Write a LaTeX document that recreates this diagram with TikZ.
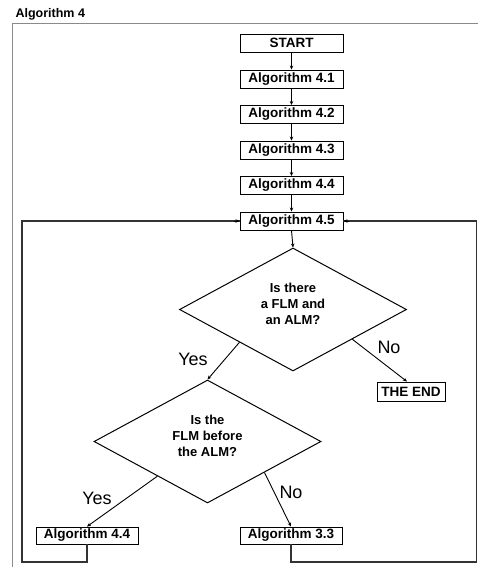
\documentclass[tikz,border=0pt]{standalone}
\usepackage{fontspec}
\setmainfont{Liberation Sans}
\usetikzlibrary{arrows.meta,shapes.geometric,calc}
\definecolor{FrameGray}{HTML}{8A8A8A}
\definecolor{LoopGray}{HTML}{333333}

\begin{document}
\begin{tikzpicture}[x=1pt,y=-1pt,
    box/.style={draw,line width=0.9pt,inner sep=0pt,minimum width=103,minimum height=18,
      font=\fontsize{13.5}{16}\selectfont\bfseries},
    decision/.style={draw,diamond,line width=1pt,inner sep=0pt,minimum width=227,minimum height=123,
      align=center,font=\fontsize{13}{16}\selectfont\bfseries},
    lbl/.style={font=\fontsize{18}{20}\selectfont},
    flow/.style={line width=0.9pt,-{Stealth[length=4pt,width=3.5pt]}},
    loop/.style={line width=1.5pt,LoopGray}]
    \useasboundingbox (0,0) rectangle (478,567);
    % Frame and title
    \node[anchor=west,font=\fontsize{12.5}{14}\selectfont\bfseries] (title) at (12,14) {Algorithm 4};
    \coordinate (frameTL) at (12,24);
    \coordinate (frameTR) at (478,24);
    \coordinate (frameBL) at (12,567);
    \draw[FrameGray,line width=1pt] (frameTR) -- (frameTL) -- (frameBL);
    % Main chain
    \node[box] (start) at (291.5,43) {START};
    \node[box] (alg41) at (291.5,79) {Algorithm 4.1};
    \node[box] (alg42) at (291.5,114.5) {Algorithm 4.2};
    \node[box] (alg43) at (291.5,150) {Algorithm 4.3};
    \node[box] (alg44) at (291.5,185.5) {Algorithm 4.4};
    \node[box] (alg45) at (291.5,221) {Algorithm 4.5};
    \foreach \a/\b in {start/alg41,alg41/alg42,alg42/alg43,alg43/alg44,alg44/alg45}
      \draw[flow] (\a.south) -- (\b.north);
    % Decisions
    \node[decision] (q1) at (293,309.5) {Is there\\a FLM and\\an ALM?\\[-5pt]};
    \node[decision] (q2) at (207.5,441.5) {Is the\\FLM before\\the ALM?\\[-5pt]};
    \draw[flow] (alg45.south) -- (q1.north);
    % Ends
    \node[box,minimum width=68,minimum height=19] (theend) at (411,391.5) {THE END};
    \node[box,minimum width=102,minimum height=17] (alg44b) at (87,535.5) {Algorithm 4.4};
    \node[box,minimum width=102,minimum height=17] (alg33) at (291,535.5) {Algorithm 3.3};
    % Branches
    \draw[flow] ($(q1.west)!0.53!(q1.south)$) -- (q2.north);
    \draw[flow] ($(q1.south)!0.52!(q1.east)$) -- ([xshift=-4pt]theend.north);
    \draw[flow] ($(q2.west)!0.56!(q2.south)$) -- (alg44b.north);
    \draw[flow] ($(q2.south)!0.5!(q2.east)$) -- (alg33.north);
    \node[lbl] (yes1) at (193,359) {Yes};
    \node[lbl] (no1) at (389,347) {No};
    \node[lbl] (yes2) at (97,498) {Yes};
    \node[lbl] (no2) at (291,492) {No};
    % Loops back to Algorithm 4.5
    \coordinate (lowL) at (22,562);
    \coordinate (lowR) at (476.5,562);
    \draw[loop] (alg44b.south) |- (lowL) |- (alg45.west);
    \draw[loop] (alg33.south) |- (lowR) |- (alg45.east);
    \draw[flow] ([xshift=-6pt]alg45.west) -- (alg45.west);
    \draw[flow] ([xshift=6pt]alg45.east) -- (alg45.east);
\end{tikzpicture}
\end{document}
